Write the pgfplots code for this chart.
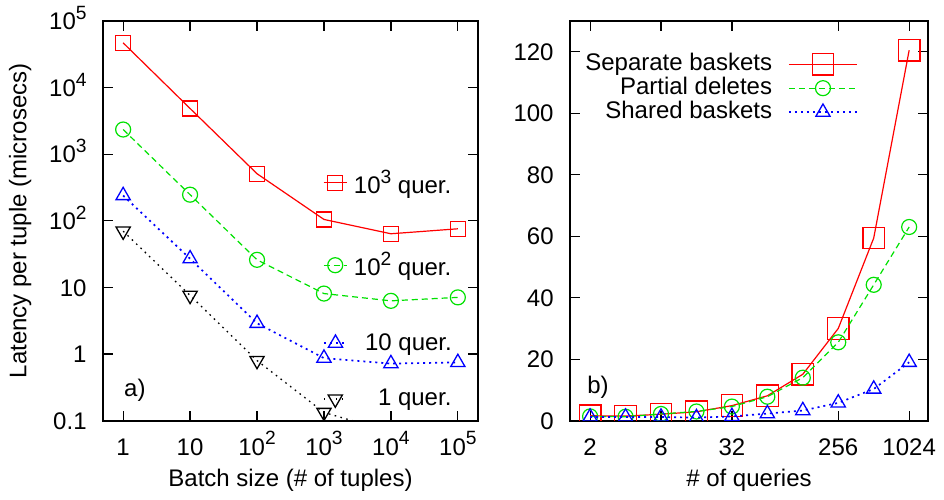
\documentclass[border=0pt]{standalone}
\usepackage{fontspec}
\setmainfont{Liberation Sans}
\usepackage{pgfplots}
\pgfplotsset{compat=1.18}

\definecolor{gpred}{RGB}{255,0,0}
\definecolor{gpgreen}{RGB}{0,225,0}
\definecolor{gpblue}{RGB}{0,0,255}

% gnuplot-like superscript
\newcommand{\sups}[1]{\raisebox{0.8ex}{\fontsize{9.6}{10}\selectfont #1}}
\newcommand{\ten}[1]{10\sups{#1}}

\pgfplotsset{
  gp/.style={
    scale only axis,
    axis line style={line width=1pt},
    tick style={line width=0.6pt, black},
    major tick length=5pt,
    tick align=inside,
    xtick pos=both, ytick pos=both,
    xminorticks=false, yminorticks=false,
    font=\fontsize{12}{14}\selectfont,
    /pgf/number format/assume math mode=true,
    clip marker paths=true,
    xticklabel style={anchor=base, inner sep=0pt, yshift=-17.2pt},
    yticklabel style={anchor=base east, inner sep=0pt, xshift=-8pt, yshift=-4.3pt},
    legend style={draw=none, fill=none, inner sep=0pt, outer sep=0pt},
  },
  redl/.style={gpred, line width=0.6pt, mark=square, mark size=3.75pt, mark options={solid}},
  grnl/.style={gpgreen, line width=0.6pt, dash pattern=on 3pt off 2pt, mark=o, mark size=3.75pt, mark options={solid}},
  blul/.style={gpblue, line width=0.85pt, dash pattern=on 1pt off 2pt, mark=triangle, mark size=4.1pt, mark options={solid, line width=0.65pt}},
  blkl/.style={black, line width=0.65pt, dash pattern=on 0.8pt off 2.2pt, mark=triangle, mark size=4.1pt, mark options={solid, rotate=180}},
  % one entry of the left plot key, each placed on its own
  lkey/.style 2 args={
    at={(51.5pt,39.15pt)}, anchor=south west,
    scale only axis, width=187.5pt, height=199.85pt,
    hide axis, xmin=0, xmax=1, ymin=0, ymax=1,
    font=\fontsize{12}{14}\selectfont,
    legend style={draw=none, fill=none, inner sep=0pt, outer sep=0pt,
      at={(#1,#2)}, anchor=west, column sep=2pt,
      nodes={inner sep=0pt}},
    legend image code/.code={\draw[mark repeat=2,mark phase=2,##1]
      plot coordinates {(0pt,0pt) (5.75pt,0pt) (11.5pt,0pt)};},
  },
}

\begin{document}
\begin{tikzpicture}
\useasboundingbox (0,0) rectangle (472pt,249.5pt);

% ---------------- a) ----------------
\begin{axis}[gp,
  at={(51.5pt,39.15pt)}, anchor=south west,
  width=187.5pt, height=199.85pt,
  xmode=log, ymode=log,
  xmin=0.5, xmax=2e5, ymin=0.1, ymax=1e5,
  xtick={1,10,100,1000,10000,100000},
  xticklabels={1,10,\ten{2},\ten{3},\ten{4},\ten{5}},
  ytick={0.1,1,10,100,1000,10000,100000},
  yticklabels={0.1,1,10,\ten{2},\ten{3},\ten{4},\ten{5}},
  xlabel={Batch size (\# of tuples)},
  ylabel={Latency per tuple (microsecs)},
  xlabel style={at={(axis description cs:0.5,-0.148)}, anchor=center},
  ylabel style={at={(axis description cs:-0.221,0.5)}, anchor=center},
]
\addplot[redl] coordinates {(1,47000) (10,4860) (100,510) (1000,105) (10000,64) (100000,76)};
\addplot[grnl] coordinates {(1,2350) (10,247) (100,26) (1000,8.1) (10000,6.3) (100000,7.1)};
\addplot[blul] coordinates {(1,240) (10,27) (100,2.9) (1000,0.87) (10000,0.72) (100000,0.75)};
\addplot[blkl] coordinates {(1,70) (10,7.6) (100,0.8) (1000,0.133) (10000,0.068)};
\node[anchor=center] at (rel axis cs:0.085,0.077) {a)};
\end{axis}

\begin{axis}[lkey={0.587}{0.595}]
\addlegendimage{redl}
\addlegendentry{\makebox[50pt][r]{\ten{3} quer.}}
\end{axis}
\begin{axis}[lkey={0.587}{0.389}]
\addlegendimage{grnl}
\addlegendentry{\makebox[50pt][r]{\ten{2} quer.}}
\end{axis}
\begin{axis}[lkey={0.587}{0.194}]
\addlegendimage{blul}
\addlegendentry{\makebox[50pt][r]{10 quer.}}
\end{axis}
\begin{axis}[lkey={0.587}{0.054}]
\addlegendimage{blkl}
\addlegendentry{\makebox[50pt][r]{1 quer.}}
\end{axis}

% ---------------- b) ----------------
\begin{axis}[gp,
  at={(285pt,39.15pt)}, anchor=south west,
  width=179pt, height=199.85pt,
  xmode=log, log basis x=2,
  xmin=1.35, xmax=1480, ymin=0, ymax=130,
  xtick={2,8,32,256,1024},
  xticklabels={2,8,32,256,1024},
  ytick={0,20,40,60,80,100,120},
  xlabel={\# of queries},
  xlabel style={at={(axis description cs:0.5,-0.148)}, anchor=center},
  legend plot pos=right,
  legend cell align=right,
  legend style={at={(0.804,0.922)}, anchor=north east, column sep=8pt,
    nodes={inner sep=0pt, text height=9pt, text depth=3pt}},
  legend image code/.code={\draw[mark repeat=2,mark phase=2,#1]
    plot coordinates {(0pt,0pt) (17pt,0pt) (34pt,0pt)};},
]
\addplot[redl, mark size=5.4pt] coordinates {(2,1.6) (4,1.5) (8,2.1) (16,2.9) (32,4.9) (64,8.1) (128,15.1) (256,30.0) (512,59.4) (1024,120.5)};
\addlegendentry{Separate baskets}
\addplot[grnl] coordinates {(2,1.4) (4,1.3) (8,2.2) (16,3.0) (32,4.6) (64,7.8) (128,14.0) (256,25.5) (512,44.2) (1024,63.0)};
\addlegendentry{Partial deletes}
\addplot[blul] coordinates {(2,1.2) (4,1.2) (8,1.2) (16,1.0) (32,1.4) (64,2.3) (128,3.3) (256,5.8) (512,10.3) (1024,19.0)};
\addlegendentry{Shared baskets}
\node[anchor=center] at (rel axis cs:0.078,0.084) {b)};
\end{axis}
\end{tikzpicture}
\end{document}
